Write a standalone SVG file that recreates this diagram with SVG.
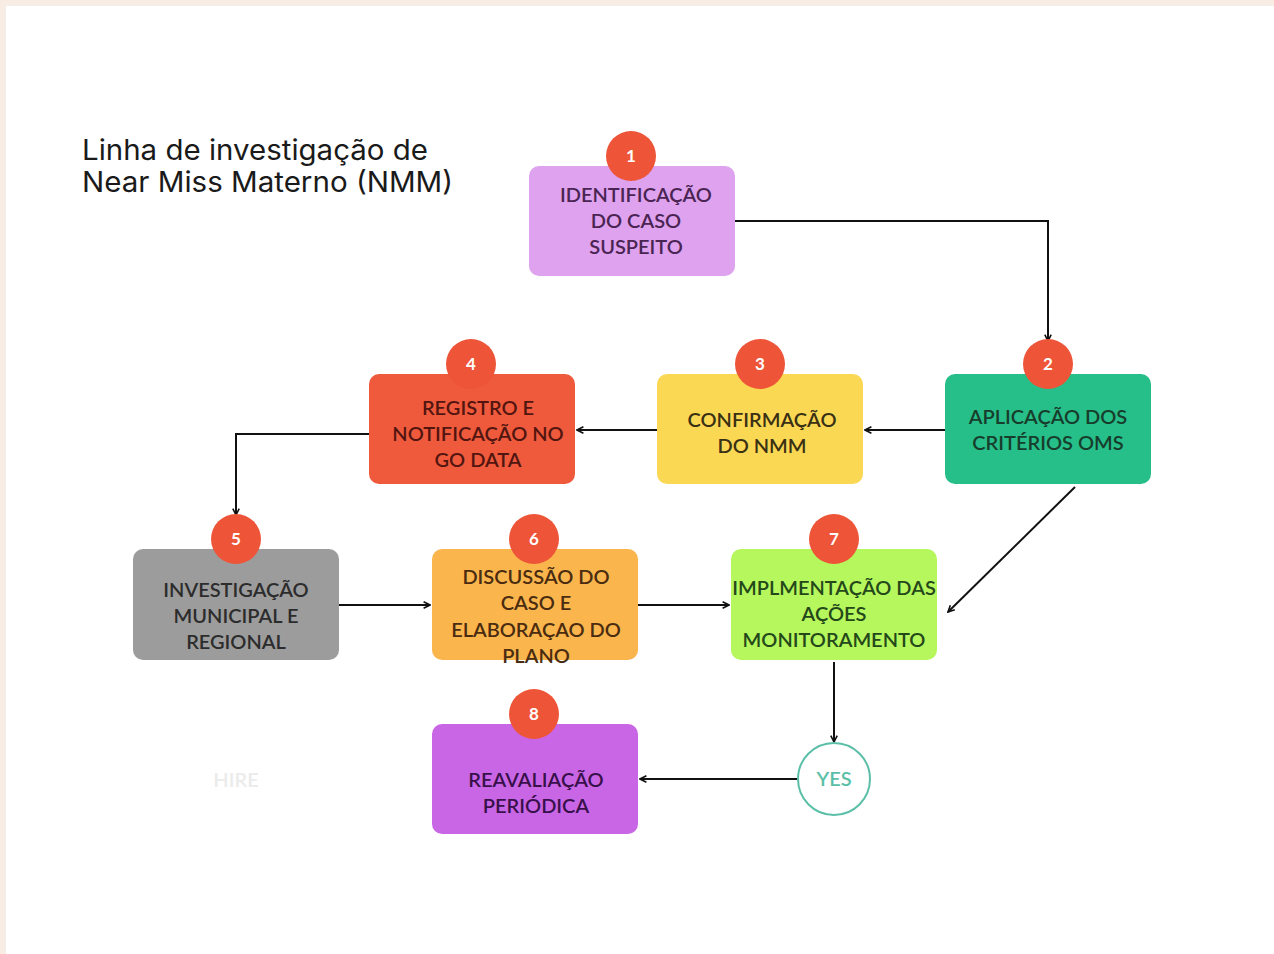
<svg xmlns="http://www.w3.org/2000/svg" width="1274" height="954" viewBox="0 0 1274 954">
  <style>
    .box-label { font-family: "Lato", "Noto Sans", sans-serif; font-size: 20px; font-weight: 600; text-anchor: middle; }
    .badge { fill: #ee5437; }
    .badge-num { font-family: "Lato", "Noto Sans", sans-serif; font-size: 17px; font-weight: 700; fill: #ffffff; text-anchor: middle; }
    .title { font-family: "Inter", "Liberation Sans", sans-serif; font-size: 28px; fill: #1a1a1a; }
    .conn { fill: none; stroke: #111111; stroke-width: 2; marker-end: url(#arrow); }
  </style>
  <defs>
    <marker id="arrow" viewBox="0 0 10 10" refX="9" refY="5" markerWidth="8" markerHeight="8" orient="auto" markerUnits="userSpaceOnUse">
      <path d="M1,1 L9,5 L1,9" fill="none" stroke="#111111" stroke-width="2"/>
    </marker>
  </defs>

  <!-- page frame -->
  <rect x="0" y="0" width="1274" height="954" fill="#f7ede4"/>
  <rect x="6" y="6" width="1268" height="948" fill="#ffffff"/>

  <g id="title">
    <text class="title" x="82" y="160" textLength="346" lengthAdjust="spacingAndGlyphs">Linha de investigação de</text>
    <text class="title" x="82" y="192" textLength="371" lengthAdjust="spacingAndGlyphs">Near Miss Materno (NMM)</text>
  </g>

  <!-- connectors -->
  <g id="connectors">
    <path class="conn" d="M735,221 H1048 V341"/>
    <path class="conn" d="M945,430 H865"/>
    <path class="conn" d="M657,430 H577"/>
    <path class="conn" d="M369,434 H236 V515"/>
    <path class="conn" d="M339,605 H430"/>
    <path class="conn" d="M638,605 H729"/>
    <path class="conn" d="M1075,487 L948,612"/>
    <path class="conn" d="M834,662 V742"/>
    <path class="conn" d="M798,779 H640"/>
  </g>

  <g id="node-1">
    <rect x="529" y="166" width="206" height="110" rx="10" fill="#dea2ee"/>
    <circle class="badge" cx="631" cy="156" r="25"/>
    <text class="badge-num" x="631" y="162">1</text>
    <text class="box-label" fill="#4a2452"><tspan x="636" y="202">IDENTIFICAÇÃO</tspan><tspan x="636" y="228">DO CASO</tspan><tspan x="636" y="254">SUSPEITO</tspan></text>
  </g>

  <g id="node-2">
    <rect x="945" y="374" width="206" height="110" rx="10" fill="#27bf89"/>
    <circle class="badge" cx="1048" cy="364" r="25"/>
    <text class="badge-num" x="1048" y="370">2</text>
    <text class="box-label" fill="#173d2c"><tspan x="1048" y="424">APLICAÇÃO DOS</tspan><tspan x="1048" y="450">CRITÉRIOS OMS</tspan></text>
  </g>

  <g id="node-3">
    <rect x="657" y="374" width="206" height="110" rx="10" fill="#fbd853"/>
    <circle class="badge" cx="760" cy="364" r="25"/>
    <text class="badge-num" x="760" y="370">3</text>
    <text class="box-label" fill="#3a3014"><tspan x="762" y="427">CONFIRMAÇÃO</tspan><tspan x="762" y="453">DO NMM</tspan></text>
  </g>

  <g id="node-4">
    <rect x="369" y="374" width="206" height="110" rx="10" fill="#ef5a3c"/>
    <circle class="badge" cx="471" cy="364" r="25"/>
    <text class="badge-num" x="471" y="370">4</text>
    <text class="box-label" fill="#521510"><tspan x="478" y="415">REGISTRO E</tspan><tspan x="478" y="441">NOTIFICAÇÃO NO</tspan><tspan x="478" y="467">GO DATA</tspan></text>
  </g>

  <g id="node-5">
    <rect x="133" y="549" width="206" height="111" rx="10" fill="#9c9c9c"/>
    <circle class="badge" cx="236" cy="539" r="25"/>
    <text class="badge-num" x="236" y="545">5</text>
    <text class="box-label" fill="#2c2c2c"><tspan x="236" y="597">INVESTIGAÇÃO</tspan><tspan x="236" y="623">MUNICIPAL E</tspan><tspan x="236" y="649">REGIONAL</tspan></text>
  </g>

  <g id="node-6">
    <rect x="432" y="549" width="206" height="111" rx="10" fill="#fbb54d"/>
    <circle class="badge" cx="534" cy="539" r="25"/>
    <text class="badge-num" x="534" y="545">6</text>
    <text class="box-label" fill="#4a2c10"><tspan x="536" y="584">DISCUSSÃO DO</tspan><tspan x="536" y="610">CASO E</tspan><tspan x="536" y="637">ELABORAÇAO DO</tspan><tspan x="536" y="663">PLANO</tspan></text>
  </g>

  <g id="node-7">
    <rect x="731" y="549" width="206" height="111" rx="10" fill="#b5f75c"/>
    <circle class="badge" cx="834" cy="539" r="25"/>
    <text class="badge-num" x="834" y="545">7</text>
    <text class="box-label" fill="#24481a"><tspan x="834" y="595">IMPLMENTAÇÃO DAS</tspan><tspan x="834" y="621">AÇÕES</tspan><tspan x="834" y="647">MONITORAMENTO</tspan></text>
  </g>

  <g id="node-8">
    <rect x="432" y="724" width="206" height="110" rx="10" fill="#c966e6"/>
    <circle class="badge" cx="534" cy="714" r="25"/>
    <text class="badge-num" x="534" y="720">8</text>
    <text class="box-label" fill="#38104a"><tspan x="536" y="787">REAVALIAÇÃO</tspan><tspan x="536" y="813">PERIÓDICA</tspan></text>
  </g>

  <g id="node-yes">
    <circle cx="834" cy="779" r="36" fill="#ffffff" stroke="#5bbfa8" stroke-width="2"/>
    <text class="box-label" x="834" y="786" fill="#5bbfa8" font-weight="400">YES</text>
  </g>

  <g id="hire-label">
    <text class="box-label" x="236" y="787" fill="#ebebeb">HIRE</text>
  </g>
</svg>
